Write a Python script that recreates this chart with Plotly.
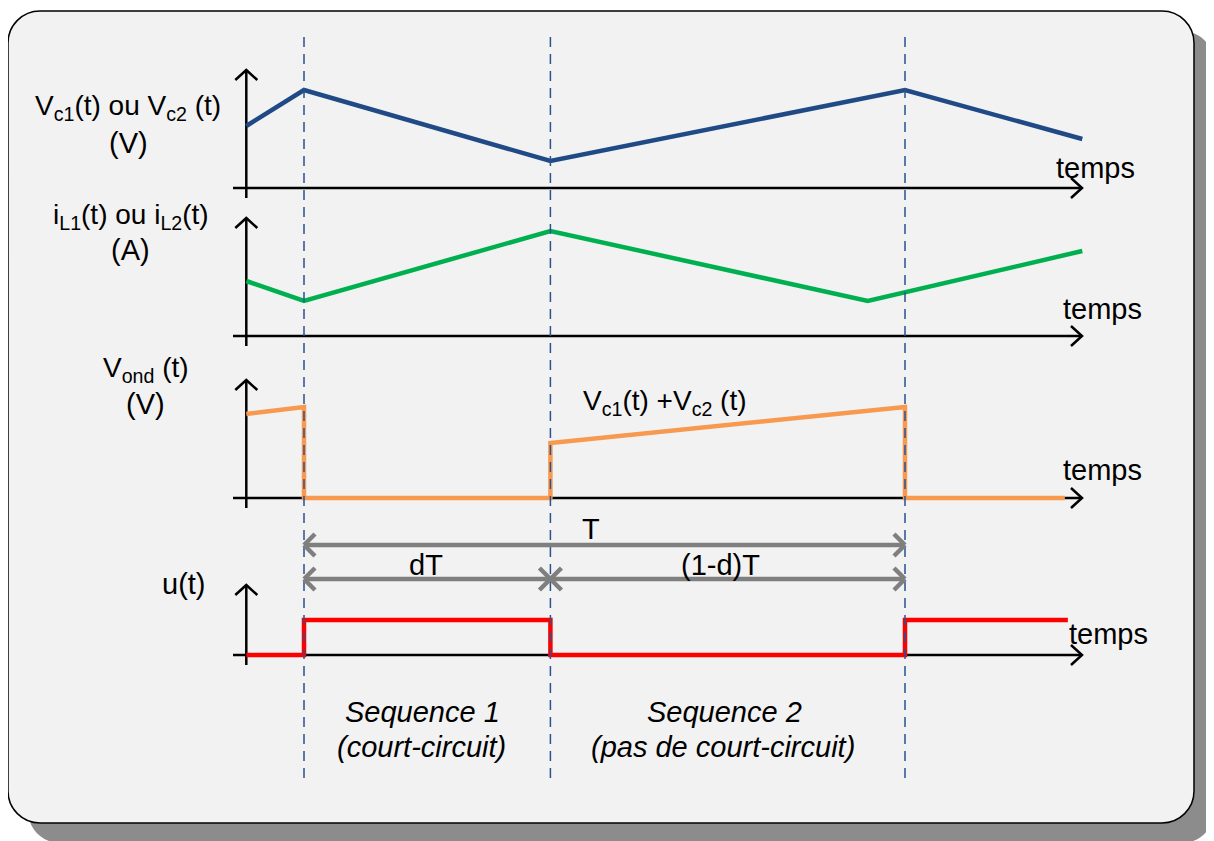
import plotly.graph_objects as go

# page body has an 8px margin: the figure starts at (8, 8) of the window
OFF = 8
W, H = 1214 - OFF, 841 - OFF

# ---------------- data (time in arbitrary units, period T = 100) ----------------
T = 100.0
dT = 41.0
t_orig = -9.6
t_end = 129.5
t_il_min = 93.8
t_ond_end = 126.6
t_u_end = 127.1

vc_t = [t_orig, 0, dT, T, t_end]
vc_v = [6.2, 9.8, 2.7, 9.8, 4.9]

il_t = [t_orig, 0, dT, t_il_min, t_end]
il_v = [5.5, 3.5, 10.5, 3.5, 8.5]

ond_t = [t_orig, 0, 0, dT, dT, T, T, t_ond_end]
ond_v = [8.4, 9.1, 0, 0, 5.5, 9.1, 0, 0]

u_t = [t_orig, 0, 0, dT, dT, T, T, t_u_end]
u_v = [0, 0, 3.5, 3.5, 0, 0, 3.5, 3.5]

switch_times = [0, dT, T]

# ---------------- layout helpers (window pixel -> paper) ----------------
X0PX = 304.0      # window pixel of t = 0
PX = 6.01         # pixels per time unit
SY = 10.0         # pixels per value unit

def fx(px):
    return (px - OFF) / W

def fy(py):
    return 1 - (py - OFF) / H

# panels: (baseline px, top px, bottom px, arrow top value)
panels = [
    (188, 45, 200, 11.8),
    (336, 205, 348, 11.8),
    (498, 365, 510, 11.8),
    (655, 580, 668, 7.0),
]

fig = go.Figure()

xr = [-(X0PX - OFF) / PX, (1214 - X0PX) / PX]
t_axis_left = (233 - X0PX) / PX
t_axis_right = (1082 - X0PX) / PX

ax_w = 2.5
arm_t = 11 / PX
arm_v = 1.0

for i, (base, top, bot, vtop) in enumerate(panels):
    yname = "y" if i == 0 else f"y{i+1}"
    fig.add_trace(go.Scatter(x=[t_axis_left, t_axis_right], y=[0, 0], mode="lines",
                             line=dict(color="black", width=ax_w), xaxis="x", yaxis=yname,
                             hoverinfo="skip", showlegend=False))
    fig.add_trace(go.Scatter(x=[t_axis_right - arm_t, t_axis_right, t_axis_right - arm_t],
                             y=[arm_v, 0, -arm_v], mode="lines",
                             line=dict(color="black", width=ax_w), xaxis="x", yaxis=yname,
                             hoverinfo="skip", showlegend=False))
    fig.add_trace(go.Scatter(x=[t_orig, t_orig], y=[-1.0, vtop], mode="lines",
                             line=dict(color="black", width=ax_w), xaxis="x", yaxis=yname,
                             hoverinfo="skip", showlegend=False))
    fig.add_trace(go.Scatter(x=[t_orig - arm_t, t_orig, t_orig + arm_t],
                             y=[vtop - arm_v, vtop, vtop - arm_v], mode="lines",
                             line=dict(color="black", width=ax_w), xaxis="x", yaxis=yname,
                             hoverinfo="skip", showlegend=False))

sig_w = 4.5
fig.add_trace(go.Scatter(x=vc_t, y=vc_v, mode="lines", line=dict(color="#1F4A86", width=sig_w),
                         xaxis="x", yaxis="y", showlegend=False))
fig.add_trace(go.Scatter(x=il_t, y=il_v, mode="lines", line=dict(color="#00B050", width=sig_w),
                         xaxis="x", yaxis="y2", showlegend=False))
fig.add_trace(go.Scatter(x=ond_t, y=ond_v, mode="lines", line=dict(color="#F79A50", width=sig_w),
                         xaxis="x", yaxis="y3", showlegend=False))
fig.add_trace(go.Scatter(x=u_t, y=u_v, mode="lines", line=dict(color="#FF0000", width=sig_w),
                         xaxis="x", yaxis="y4", showlegend=False))

# ---------------- shapes ----------------
def rrect(x0, y0, x1, y1, r):
    k = 0.5523 * r
    p = lambda x, y: f"{fx(x):.6f},{fy(y):.6f}"
    s = f"M{p(x0 + r, y0)} L{p(x1 - r, y0)} "
    s += f"C{p(x1 - r + k, y0)} {p(x1, y0 + r - k)} {p(x1, y0 + r)} "
    s += f"L{p(x1, y1 - r)} "
    s += f"C{p(x1, y1 - r + k)} {p(x1 - r + k, y1)} {p(x1 - r, y1)} "
    s += f"L{p(x0 + r, y1)} "
    s += f"C{p(x0 + r - k, y1)} {p(x0, y1 - r + k)} {p(x0, y1 - r)} "
    s += f"L{p(x0, y0 + r)} "
    s += f"C{p(x0, y0 + r - k)} {p(x0 + r - k, y0)} {p(x0 + r, y0)} Z"
    return s

shapes = []
shapes.append(dict(type="path", xref="paper", yref="paper", path=rrect(28, 31, 1214, 843, 32),
                   fillcolor="#8C8C8C", line=dict(width=0), layer="below"))
shapes.append(dict(type="path", xref="paper", yref="paper", path=rrect(8, 11, 1194, 823, 32),
                   fillcolor="#F2F2F2", line=dict(color="black", width=1.5), layer="below"))

for ts in switch_times:
    shapes.append(dict(type="line", xref="x", yref="paper", x0=ts, x1=ts,
                       y0=fy(778), y1=fy(30),
                       line=dict(color="#2A5290", width=1.5, dash="10px,7px"),
                       layer="above"))

gray = "#7F7F7F"
gw = 4.5
def garrow(t_a, t_b, ypx, left_head=True, right_head=True):
    out = [dict(type="line", xref="x", yref="paper", x0=t_a, x1=t_b, y0=fy(ypx), y1=fy(ypx),
                line=dict(color=gray, width=gw))]
    ah = 11 / PX
    if left_head:
        for dy in (-11, 11):
            out.append(dict(type="line", xref="x", yref="paper", x0=t_a, x1=t_a + ah,
                            y0=fy(ypx), y1=fy(ypx + dy), line=dict(color=gray, width=gw)))
    if right_head:
        for dy in (-11, 11):
            out.append(dict(type="line", xref="x", yref="paper", x0=t_b, x1=t_b - ah,
                            y0=fy(ypx), y1=fy(ypx + dy), line=dict(color=gray, width=gw)))
    return out

shapes += garrow(0, T, 545)
shapes += garrow(0, dT, 579)
shapes += garrow(dT, T, 579)

# ---------------- annotations ----------------
FONT = "Liberation Sans, Arial, sans-serif"
def txt(s, xpx, ypx, italic=False, size=29):
    if italic:
        s = f"<i>{s}</i>"
    return dict(text=s, x=fx(xpx), y=fy(ypx), xref="paper", yref="paper", showarrow=False,
                xanchor="center", yanchor="middle", font=dict(family=FONT, size=size, color="black"))

annotations = [
    txt("V<sub>c1</sub>(t) ou V<sub>c2</sub> (t)", 128, 108, size=28),
    txt("(V)", 128, 143),
    txt("i<sub>L1</sub>(t) ou i<sub>L2</sub>(t)", 131, 217, size=28),
    txt("(A)", 130, 250),
    txt("V<sub>ond</sub> (t)", 146, 370, size=28),
    txt("(V)", 145, 404),
    txt("V<sub>c1</sub>(t) +V<sub>c2</sub> (t)", 665, 403, size=28),
    txt("u(t)", 184, 584),
    txt("temps", 1095, 168),
    txt("temps", 1102, 309),
    txt("temps", 1102, 470),
    txt("temps", 1108, 634),
    txt("T", 591, 529),
    txt("dT", 426, 565),
    txt("(1-d)T", 720, 565),
    txt("Sequence 1", 422, 712, italic=True),
    txt("(court-circuit)", 421, 747, italic=True),
    txt("Sequence 2", 724, 712, italic=True),
    txt("(pas de court-circuit)", 723, 747, italic=True),
]

layout = dict(
    width=W, height=H,
    margin=dict(l=0, r=0, t=0, b=0),
    paper_bgcolor="white", plot_bgcolor="rgba(0,0,0,0)",
    showlegend=False,
    shapes=shapes, annotations=annotations,
    xaxis=dict(range=xr, domain=[0, 1], visible=False, fixedrange=True),
)
for i, (base, top, bot, vtop) in enumerate(panels):
    key = "yaxis" if i == 0 else f"yaxis{i+1}"
    layout[key] = dict(domain=[fy(bot), fy(top)],
                       range=[(base - bot) / SY, (base - top) / SY],
                       visible=False, fixedrange=True, anchor="x")

fig.update_layout(**layout)
fig.write_html("out.html")
